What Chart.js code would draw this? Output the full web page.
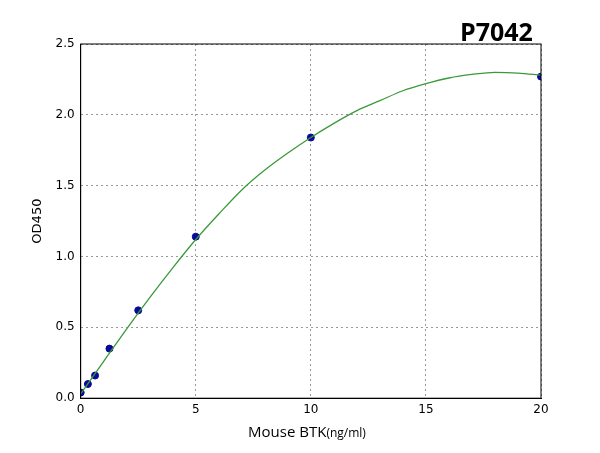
<!DOCTYPE html>
<html>
<head>
<meta charset="utf-8">
<script src="https://cdn.jsdelivr.net/npm/chart.js@4"></script>
<style>
  body { margin: 0; background: #fff; }
  #wrap { position: relative; width: 600px; height: 453px; }
  #titulo { position: absolute; left: 460px; top: 14px; font: bold 25px "Open Sans", "DejaVu Sans", sans-serif; color: #000; }
  #xlab { position: absolute; left: 0; width: 600px; top: 421px; text-align: center; font: 15px "Open Sans", "DejaVu Sans", sans-serif; padding-left: 14px; box-sizing: border-box; }
  #xlab small { font-size: 12px; }
</style>
</head>
<body>
<div id="wrap">
  <canvas id="grafica" width="600" height="453"></canvas>
  <div id="titulo">P7042</div>
  <div id="xlab">Mouse BTK<small>(ng/ml)</small></div>
</div>
<script>
// puntos medidos
const concentraciones = [0, 0.3125, 0.625, 1.25, 2.5, 5, 10, 20];
const densidades = [0.04, 0.10, 0.16, 0.35, 0.62, 1.14, 1.84, 2.27];
// curva ajustada
const curvaX = [0, 1, 2, 3, 4, 5, 6, 7, 8, 9, 10, 11, 12, 13, 14, 15, 16, 17, 18, 19, 20];
const curvaY = [0.03, 0.26, 0.49, 0.71, 0.92, 1.12, 1.30, 1.47, 1.61, 1.73, 1.84, 1.94, 2.03, 2.10, 2.17, 2.22, 2.26, 2.285, 2.30, 2.295, 2.28];
const ticksY = [0, 0.5, 1.0, 1.5, 2.0, 2.5];
const ticksX = [0, 5, 10, 15, 20];

const ctx = document.getElementById('grafica').getContext('2d');
Chart.defaults.font.family = '"DejaVu Sans", sans-serif';
Chart.defaults.font.size = 12;
Chart.defaults.color = '#000';

new Chart(ctx, {
    type: 'scatter',
    data: {
        datasets: [
            {
                type: 'line',
                data: curvaX.map((x, i) => ({ x, y: curvaY[i] })),
                borderColor: '#3a9a3a',
                borderWidth: 1.3,
                pointRadius: 0,
                cubicInterpolationMode: 'monotone',
                fill: false
            },
            {
                data: concentraciones.map((x, i) => ({ x, y: densidades[i] })),
                backgroundColor: '#0a0a9a',
                borderColor: '#0a0a9a',
                pointRadius: 3.5
            }
        ]
    },
    options: {
        responsive: false,
        animation: false,
        layout: { padding: { left: 26, right: 59, top: 44, bottom: 10 } },
        plugins: { legend: { display: false }, tooltip: { enabled: false } },
        scales: {
            x: {
                type: 'linear', min: 0, max: 20,
                afterBuildTicks: (s) => { s.ticks = ticksX.map(v => ({ value: v })); },
                ticks: { padding: 4 },
                grid: { color: '#999', drawTicks: false },
                border: { color: '#000', dash: [2, 3], width: 1 },
                title: { display: true, text: ' ', padding: { top: 4 } }
            },
            y: {
                min: 0, max: 2.5,
                afterBuildTicks: (s) => { s.ticks = ticksY.map(v => ({ value: v })); },
                ticks: { callback: (v) => v.toFixed(1), padding: 6 },
                grid: { color: '#999', drawTicks: false },
                border: { color: '#000', dash: [2, 3] },
                title: { display: true, text: 'OD450', font: { size: 13 } }
            }
        }
    },
    plugins: [{
        id: 'marco',
        afterDraw(chart) {
            const a = chart.chartArea, c = chart.ctx;
            c.save();
            c.strokeStyle = '#000';
            c.lineWidth = 1;
            c.strokeRect(a.left, a.top, a.right - a.left, a.bottom - a.top);
            c.restore();
        }
    }]
});
</script>
</body>
</html>
